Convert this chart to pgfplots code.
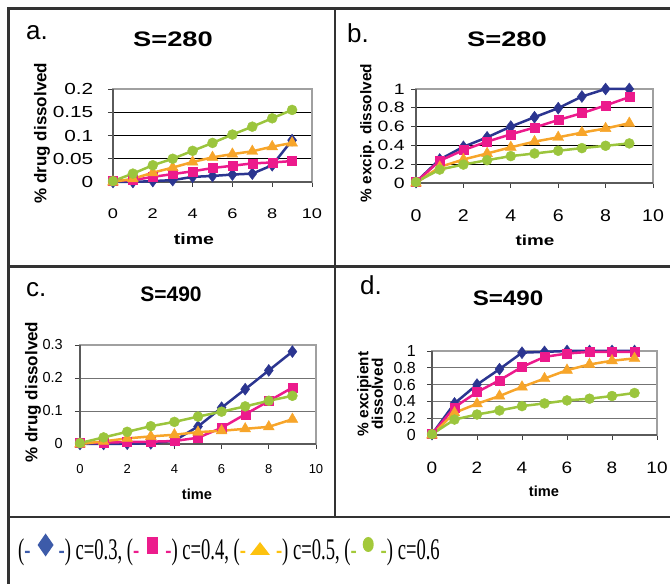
\documentclass[border=0pt]{standalone}
\usepackage{pgfplots}
\pgfplotsset{compat=1.18}
\usepackage{pgfplotstable}
\usepackage{fontspec}
\setmainfont{Liberation Sans}
\newfontfamily\arA[FakeStretch=1.3]{Liberation Sans}
\newfontfamily\arD[FakeStretch=1.15]{Liberation Sans}
\newfontfamily\arN{Liberation Sans}
\newfontfamily\legf[FakeStretch=0.62]{Liberation Serif}

\definecolor{cblue}{HTML}{2B3590}
\definecolor{cpink}{HTML}{EC1A8C}
\definecolor{corange}{HTML}{F7A52A}
\definecolor{cgreen}{HTML}{9BC53D}
\definecolor{lblue}{HTML}{3D5BA9}
\definecolor{lpink}{HTML}{EC1C8C}
\definecolor{lyellow}{HTML}{FDC20F}
\definecolor{lgreen}{HTML}{A3C93A}
\definecolor{framec}{HTML}{A0A0A0}
\definecolor{axc}{HTML}{5A5A5A}
\definecolor{bord}{HTML}{333333}

\pgfplotstableread{
t b p o g
0 0 0.003 0 0.002
1 0 0.004 0.007 0.018
2 0.002 0.011 0.02 0.036
3 0.004 0.017 0.031 0.05
4 0.011 0.023 0.043 0.067
5 0.013 0.03 0.053 0.084
6 0.016 0.035 0.06 0.102
7 0.018 0.04 0.066 0.119
8 0.036 0.042 0.076 0.137
9 0.09 0.045 0.084 0.155
}\tabA
\pgfplotstableread{
t b p o g
0 0.01 0.01 0 0.01
1 0.25 0.236 0.17 0.143
2 0.385 0.35 0.25 0.196
3 0.486 0.44 0.314 0.243
4 0.6 0.518 0.38 0.286
5 0.7 0.59 0.44 0.314
6 0.796 0.67 0.486 0.343
7 0.92 0.743 0.536 0.371
8 1.0 0.825 0.58 0.396
9 1.0 0.914 0.636 0.421
}\tabB
\pgfplotstableread{
t b p o g
0 0 0.003 0 0.003
1 0 0.004 0.008 0.02
2 0.001 0.006 0.017 0.037
3 0.002 0.007 0.023 0.054
4 0.01 0.009 0.028 0.067
5 0.053 0.019 0.036 0.083
6 0.11 0.049 0.04 0.098
7 0.166 0.09 0.046 0.114
8 0.223 0.13 0.052 0.131
9 0.28 0.171 0.075 0.146
}\tabC
\pgfplotstableread{
t b p o g
0 0.01 0.01 0 0.01
1 0.376 0.33 0.264 0.184
2 0.6 0.51 0.372 0.244
3 0.784 0.652 0.464 0.292
4 0.98 0.81 0.572 0.344
5 0.99 0.93 0.672 0.376
6 1.0 0.97 0.772 0.412
7 1.0 0.99 0.84 0.432
8 1.0 0.99 0.884 0.464
9 1.0 0.99 0.912 0.5
}\tabD

\pgfplotsset{
  panel/.style={scale only axis, anchor=south west,
    xmin=0, xmax=10, xtick={0,2,4,6,8,10}, xticklabels={0,2,4,6,8,10},
    tick align=outside, tick pos=left, major tick length=5pt,
    tick style={black!75, line width=0.8pt},
    axis line style={draw=framec, line width=2.4pt},
    ymajorgrids, clip=false,
    yticklabel style={anchor=east, inner sep=0pt},
    xticklabel style={anchor=base, inner sep=0pt},
  },
  sB/.style={color=cblue, line width=2.5pt, mark=diamond*, mark size=6pt, mark options={solid, line width=0.4pt}},
  sP/.style={color=cpink, line width=2.5pt, mark=square*, mark size=4.5pt, mark options={solid, line width=0.4pt}},
  sO/.style={color=corange, line width=2.5pt, mark=triangle*, mark size=6.3pt, mark options={solid, line width=0.4pt}},
  sG/.style={color=cgreen, line width=2.5pt, mark=*, mark size=5pt, mark options={solid, line width=0.4pt}},
}
\newcommand{\axdark}{\draw[axc, line width=1.8pt] (rel axis cs:0,1) -- (rel axis cs:0,0) -- (rel axis cs:1,0);}
\newcommand{\ldia}{\tikz[baseline=0pt,x=1pt,y=1pt]\fill[lblue] (8,3.5)--(16,15)--(8,26.5)--(0,15)--cycle;}
\newcommand{\lsq}{\tikz[baseline=0pt,x=1pt,y=1pt]\fill[lpink] (0,6) rectangle (11,23);}
\newcommand{\ltri}{\tikz[baseline=0pt,x=1pt,y=1pt]\fill[lyellow] (0,5)--(20,5)--(10,18)--cycle;}
\newcommand{\lcirc}{\tikz[baseline=0pt,x=1pt,y=1pt]\fill[lgreen] (5.5,15.5) ellipse [x radius=5.5, y radius=7.5];}

\begin{document}
\begin{tikzpicture}[x=1pt,y=1pt]
\useasboundingbox (0,0) rectangle (670,584);
% frame lines
\draw[bord, line width=3pt] (670,575.5) -- (8.5,575.5) -- (8.5,0);
\draw[bord, line width=2.5pt] (8.5,317.5) -- (670,317.5);
\draw[bord, line width=2.5pt] (335,575.5) -- (335,67);
\draw[bord, line width=2.5pt] (8.5,67) -- (670,67);

% panel a
\begin{axis}[panel, at={(113pt,402pt)}, width=199pt, height=93pt,
  ymin=0, ymax=0.2, ytick={0,0.05,0.1,0.15,0.2}, yticklabels={0,0.05,0.1,0.15,0.2},
  major grid style={black, line width=0.7pt},
  xticklabel style={font=\arA\fontsize{14}{14}\selectfont, yshift=-32pt},
  yticklabel style={font=\arA\fontsize{16}{16}\selectfont, xshift=-14.5pt}]
\axdark
\addplot[sB] table[x=t,y=b] {\tabA};
\addplot[sP] table[x=t,y=p] {\tabA};
\addplot[sO] table[x=t,y=o] {\tabA};
\addplot[sG] table[x=t,y=g] {\tabA};
\end{axis}

% panel b
\begin{axis}[panel, at={(416pt,401pt)}, width=237pt, height=94pt,
  ymin=0, ymax=1, ytick={0,0.2,0.4,0.6,0.8,1}, yticklabels={0,0.2,0.4,0.6,0.8,1},
  major grid style={black, line width=0.7pt},
  xticklabel style={font=\arD\fontsize{17}{17}\selectfont, yshift=-34pt},
  yticklabel style={font=\arA\fontsize{15}{15}\selectfont, xshift=-6pt}]
\axdark
\addplot[sB] table[x=t,y=b] {\tabB};
\addplot[sP] table[x=t,y=p] {\tabB};
\addplot[sO] table[x=t,y=o] {\tabB};
\addplot[sG] table[x=t,y=g] {\tabB};
\end{axis}

% panel c
\begin{axis}[panel, at={(80pt,140pt)}, width=236pt, height=99pt,
  ymin=0, ymax=0.3, ytick={0,0.1,0.2,0.3}, yticklabels={0,0.1,0.2,0.3},
  major grid style={black!55, line width=0.8pt},
  xticklabel style={font=\arN\fontsize{13}{13}\selectfont, yshift=-25pt},
  yticklabel style={font=\arN\fontsize{14.5}{14.5}\selectfont, xshift=-12pt}]
\axdark
\addplot[sB] table[x=t,y=b] {\tabC};
\addplot[sP] table[x=t,y=p] {\tabC};
\addplot[sO] table[x=t,y=o] {\tabC};
\addplot[sG] table[x=t,y=g] {\tabC};
\end{axis}

% panel d
\begin{axis}[panel, at={(432pt,149pt)}, width=225pt, height=84pt,
  ymin=0, ymax=1, ytick={0,0.2,0.4,0.6,0.8,1}, yticklabels={0,0.2,0.4,0.6,0.8,1},
  major grid style={black!55, line width=0.8pt},
  xticklabel style={font=\arD\fontsize{16.5}{16.5}\selectfont, yshift=-34pt},
  yticklabel style={font=\arN\fontsize{16}{16}\selectfont, xshift=-11pt}]
\axdark
\addplot[sB] table[x=t,y=b] {\tabD};
\addplot[sP] table[x=t,y=p] {\tabD};
\addplot[sO] table[x=t,y=o] {\tabD};
\addplot[sG] table[x=t,y=g] {\tabD};
\end{axis}

% panel letters
\node[font=\arN\fontsize{26}{26}\selectfont, anchor=base west, inner sep=0] at (26,544) {a.};
\node[font=\arN\fontsize{26}{26}\selectfont, anchor=base west, inner sep=0] at (347,541) {b.};
\node[font=\arN\fontsize{26}{26}\selectfont, anchor=base west, inner sep=0] at (26,287) {c.};
\node[font=\arN\fontsize{26}{26}\selectfont, anchor=base west, inner sep=0] at (360,289) {d.};
% titles
\node[font=\arA\bfseries\fontsize{21}{21}\selectfont, inner sep=0] at (173,545) {S=280};
\node[font=\arA\bfseries\fontsize{21}{21}\selectfont, inner sep=0] at (507,545) {S=280};
\node[font=\arN\bfseries\fontsize{21}{21}\selectfont, inner sep=0] at (171,289.5) {S=490};
\node[font=\arD\bfseries\fontsize{21}{21}\selectfont, inner sep=0] at (508,286) {S=490};
% y labels
\node[rotate=90, font=\arN\bfseries\fontsize{17}{17}\selectfont, inner sep=0] at (42,451) {\% drug dissolved};
\node[rotate=90, font=\arN\bfseries\fontsize{15.4}{15.4}\selectfont, inner sep=0] at (367.5,451) {\% excip. dissolved};
\node[rotate=90, font=\arN\bfseries\fontsize{17}{17}\selectfont, inner sep=0] at (33,192) {\% drug dissolved};
\node[rotate=90, align=center, font=\arN\bfseries\fontsize{15.4}{14.5}\selectfont, inner sep=0] at (370,190) {\% excipient\\dissolved};
% x labels
\node[font=\arA\bfseries\fontsize{15}{15}\selectfont, inner sep=0] at (194,345) {time};
\node[font=\arA\bfseries\fontsize{14.5}{14.5}\selectfont, inner sep=0] at (535,344) {time};
\node[font=\arN\bfseries\fontsize{14.6}{14.6}\selectfont, inner sep=0] at (197,89.5) {time};
\node[font=\arN\bfseries\fontsize{14.6}{14.6}\selectfont, inner sep=0] at (544,93) {time};
% legend line
\node[anchor=base west, inner sep=0, font=\legf\fontsize{30}{30}\selectfont] at (18,24)
 {(\textcolor{lblue}{-}\hspace{7pt}\ldia\hspace{5pt}\textcolor{lblue}{-}) c=0.3, (\textcolor{lpink}{-}\hspace{8pt}\lsq\hspace{7pt}\textcolor{lpink}{-}) c=0.4, (\textcolor{lyellow}{-}\hspace{4pt}\ltri\hspace{6pt}\textcolor{lyellow}{-}) c=0.5, (\textcolor{lgreen}{-}\hspace{6pt}\lcirc\hspace{7pt}\textcolor{lgreen}{-}) c=0.6};
\end{tikzpicture}
\end{document}
